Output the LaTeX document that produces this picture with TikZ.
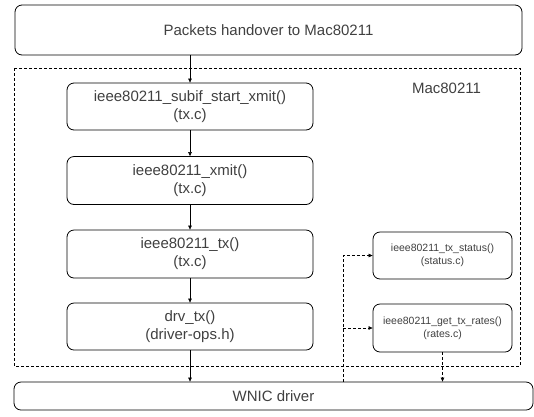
\documentclass[tikz,border=0pt]{standalone}
\usepackage{fontspec}
\setmainfont{Liberation Sans}
\usetikzlibrary{arrows.meta}
\begin{document}
\begin{tikzpicture}[x=1pt,y=-1pt,
  box/.style={draw=black,rounded corners=7pt,line width=0.8pt,align=center,text=black!75,inner sep=0pt},
  flow/.style={-{Triangle[length=4pt,width=3.5pt]},line width=0.6pt},
  dflow/.style={-{Triangle[length=4pt,width=3.5pt]},line width=0.6pt,dash pattern=on 3pt off 2pt}]
\useasboundingbox (0,0) rectangle (534,416);
\node[box,minimum width=507pt,minimum height=50pt,font=\fontsize{15}{17}\selectfont] (top) at (268.5,30) {Packets handover to Mac80211};
\draw[line width=0.6pt,dash pattern=on 3pt off 2pt] (14,68) rectangle (520,366);
\node[font=\fontsize{15}{17}\selectfont,text=black!75] (mac) at (446.5,88) {Mac80211};
\node[box,minimum width=246pt,minimum height=47pt,font=\fontsize{15}{18}\selectfont] (b1) at (190,106.5) {ieee80211\_subif\_start\_xmit()\\(tx.c)};
\node[box,minimum width=246pt,minimum height=48pt,font=\fontsize{15}{18}\selectfont] (b2) at (190,180.5) {ieee80211\_xmit()\\(tx.c)};
\node[box,minimum width=246pt,minimum height=48pt,font=\fontsize{15}{18}\selectfont] (b3) at (190,254) {ieee80211\_tx()\\(tx.c)};
\node[box,minimum width=246pt,minimum height=47pt,font=\fontsize{15}{18}\selectfont] (b4) at (190,326.5) {drv\_tx()\\(driver-ops.h)};
\node[box,minimum width=519pt,minimum height=28pt,font=\fontsize{15}{17}\selectfont] (wnic) at (273.5,396) {WNIC driver};
\node[box,minimum width=139pt,minimum height=47pt,font=\fontsize{10.5}{13}\selectfont] (st) at (442.5,255.5) {ieee80211\_tx\_status()\\(status.c)};
\node[box,minimum width=139pt,minimum height=48pt,font=\fontsize{10.5}{13}\selectfont] (rt) at (442.5,328) {ieee80211\_get\_tx\_rates()\\(rates.c)};
\draw[flow] (top.south -| b1) -- (b1.north);
\draw[flow] (b1) -- (b2);
\draw[flow] (b2) -- (b3);
\draw[flow] (b3) -- (b4);
\draw[flow] (b4) -- (b4.south |- wnic.north);
\coordinate (up) at (343,255.5);
\coordinate (mid) at (343,328);
\draw[dflow] (wnic.north -| up) -- (up) -- (st.west);
\draw[dflow] (mid) -- (rt.west);
\draw[dflow] (rt.south) -- (rt.south |- wnic.north);
\end{tikzpicture}
\end{document}
